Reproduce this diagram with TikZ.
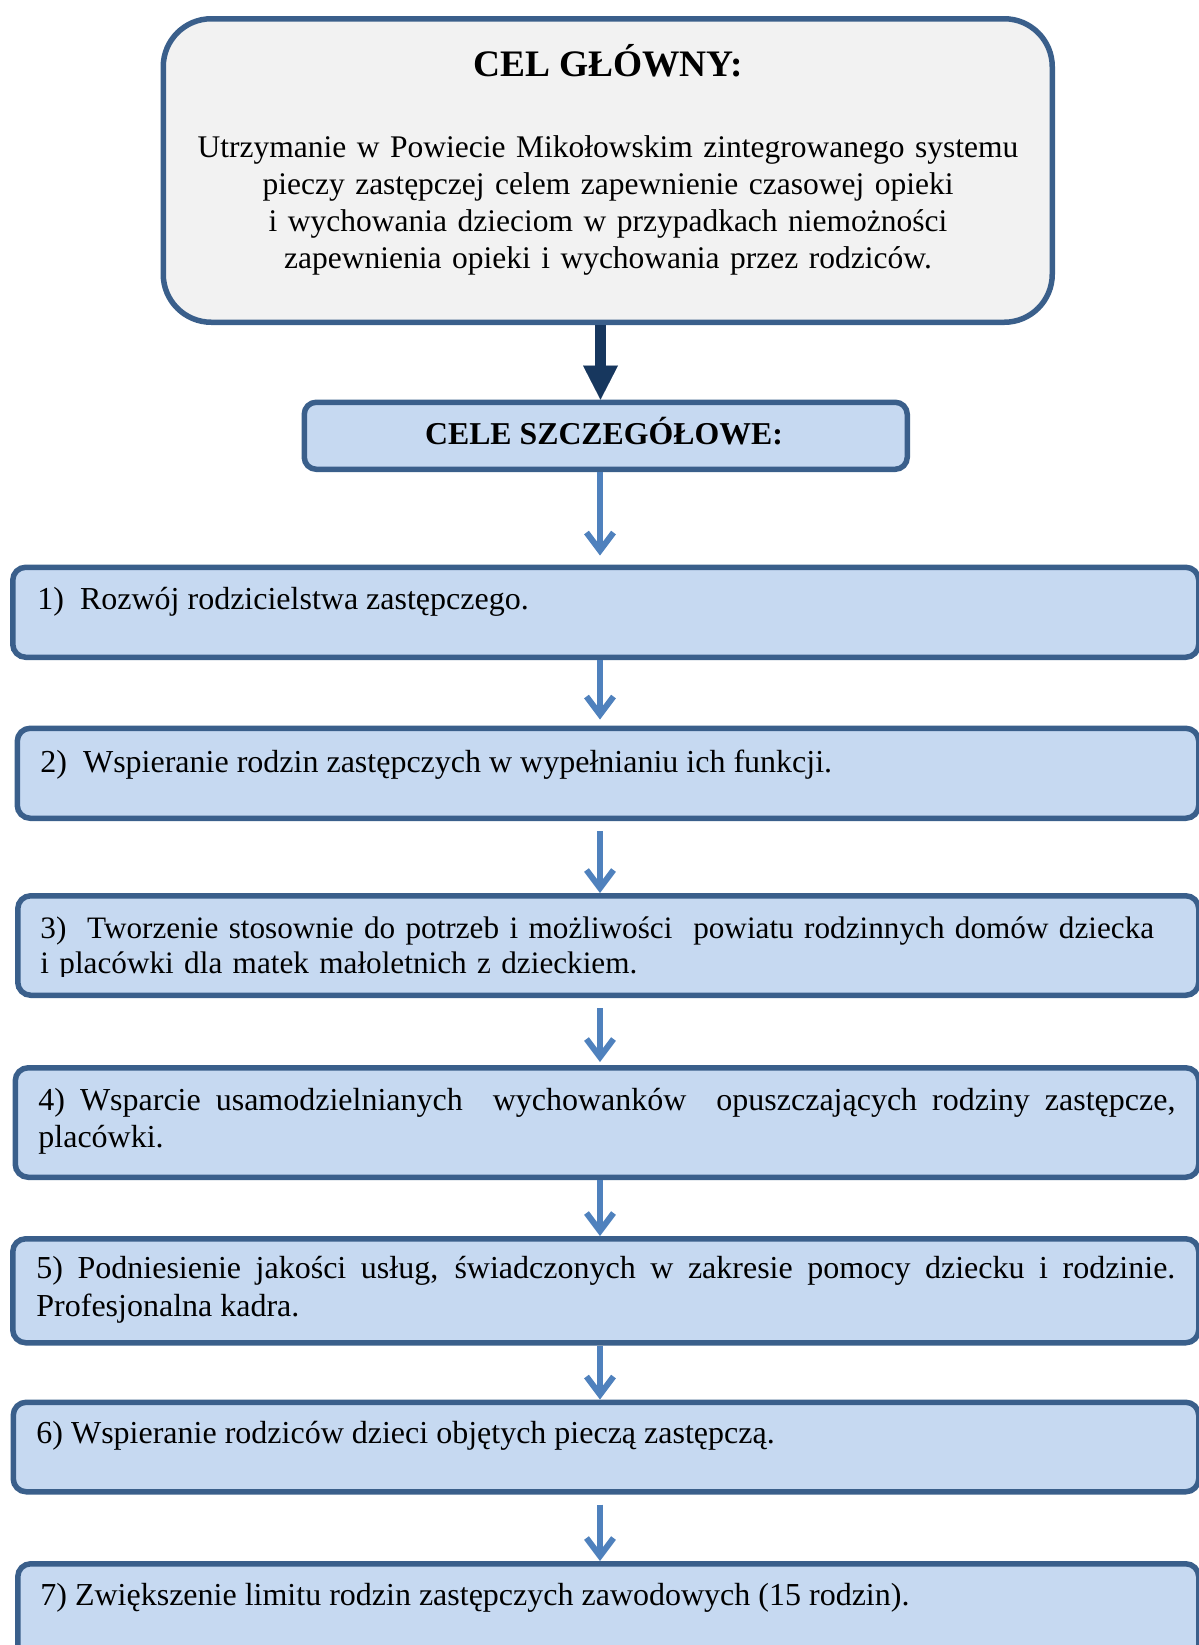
\documentclass[tikz,border=0pt]{standalone}
\usepackage{fontspec}
\setmainfont{Liberation Serif}
\usetikzlibrary{arrows.meta}
\definecolor{bordc}{HTML}{3A5F8B}
\definecolor{boxfill}{HTML}{C6D9F1}
\definecolor{topfill}{HTML}{F2F2F2}
\definecolor{darkarrc}{HTML}{17375E}
\definecolor{arrc}{HTML}{4F81BD}
\begin{document}
\begin{tikzpicture}[x=0.5pt,y=-0.5pt,
  bx/.style={rectangle, draw=bordc, line width=2.75pt, fill=boxfill, rounded corners=6.5pt, inner sep=0pt, anchor=north west},
  txt/.style={inner sep=0pt, anchor=base west, font=\fontsize{16pt}{18pt}\selectfont},
  darkarr/.style={draw=darkarrc, line width=5.5pt, -{Triangle[length=17pt,width=17.5pt,line width=0.01pt]}},
  ltarr/.style={draw=arrc, line width=3pt, -{Straight Barb[length=9pt,width=13.5pt]},
    preaction={draw=black!30, -{Straight Barb[length=9pt,width=13.5pt]}, transform canvas={shift={(0.4pt,-1pt)}}}},
]
\useasboundingbox (0,0) rectangle (1199,1645);

% main goal box
\node[bx, fill=topfill, rounded corners=24pt, minimum width=444.5pt, minimum height=151.75pt] (top) at (160.5,16) {};
\node[anchor=base, inner sep=0pt, font=\bfseries\fontsize{18.7pt}{22pt}\selectfont] (h0) at (608,76) {CEL GŁÓWNY:};
\node[anchor=base, inner sep=0pt, text width=440pt, align=center, font=\fontsize{15.75pt}{18.5pt}\selectfont] (b0) at (608,157)
  {Utrzymanie w Powiecie Mikołowskim zintegrowanego systemu\\
   pieczy zastępczej celem zapewnienie czasowej opieki\\
   i wychowania dzieciom w przypadkach niemożności\\
   zapewnienia opieki i wychowania przez rodziców.};

% specific goals header
\node[bx, rounded corners=6pt, minimum width=301.5pt, minimum height=33.5pt] (cele) at (301.5,399.5) {};
\node[anchor=base, inner sep=0pt, font=\bfseries\fontsize{15.9pt}{19pt}\selectfont] (h1) at (604,444) {CELE SZCZEGÓŁOWE:};

% goal boxes
\node[bx, minimum width=593pt,    minimum height=45pt]    (b1) at (10,564.5) {};
\node[bx, minimum width=590.75pt, minimum height=45pt]    (b2) at (14.5,725.5) {};
\node[bx, minimum width=590.5pt,  minimum height=49.75pt] (b3) at (15,893) {};
\node[bx, minimum width=591.75pt, minimum height=54.75pt] (b4) at (12.5,1065) {};
\node[bx, minimum width=593pt,    minimum height=52pt]    (b5) at (10,1236) {};
\node[bx, minimum width=592.75pt, minimum height=44.75pt] (b6) at (10.5,1399.5) {};
\node[bx, minimum width=590.5pt,  minimum height=59.5pt]  (b7) at (15,1561) {};

% connectors
\draw[darkarr] (top.south -| 600.5,0) -- (cele.north -| 600.5,0);
\draw[ltarr, shorten >=4.5pt] (cele.south -| 600,0) -- (b1.north -| 600,0);
\draw[ltarr, shorten >=3pt] (b1.south -| 600,0) -- (b2.north -| 600,0);
\draw[ltarr, shorten <=5pt] (b2.south -| 600,0) -- (b3.north -| 600,0);
\draw[ltarr, shorten <=5pt, shorten >=1.5pt] (b3.south -| 600,0) -- (b4.north -| 600,0);
\draw[ltarr] (b4.south -| 600,0) -- (b5.north -| 600,0);
\draw[ltarr] (b5.south -| 600,0) -- (b6.north -| 600,0);
\draw[ltarr, shorten <=5pt] (b6.south -| 600,0) -- (b7.north -| 600,0);

% texts
\node[txt] (t1) at (37,609) {1)~~Rozwój rodzicielstwa zastępczego.};
\node[txt] (t2) at (40,772) {2)~~Wspieranie rodzin zastępczych w wypełnianiu ich funkcji.};
\begin{scope}
\clip (17,896) rectangle (1194,976);
\node[txt, text width=575pt, align=left, font=\fontsize{15.6pt}{17.5pt}\selectfont] (t3) at (40,938)
  {3)~~Tworzenie stosownie do potrzeb i możliwości~~powiatu rodzinnych domów dziecka\\
   i placówki dla matek małoletnich z dzieckiem.};
\end{scope}
\node[txt, text width=568.5pt, align=justify, font=\fontsize{16pt}{18.5pt}\selectfont] (t4) at (38,1110)
  {4) Wsparcie usamodzielnianych~~wychowanków~~opuszczających rodziny zastępcze,\linebreak placówki.};
\node[txt, text width=569.5pt, align=justify, font=\fontsize{16pt}{19pt}\selectfont] (t5) at (36,1278)
  {5) Podniesienie jakości usług, świadczonych w zakresie pomocy dziecku i rodzinie.\linebreak Profesjonalna kadra.};
\node[txt] (t6) at (36,1443) {6) Wspieranie rodziców dzieci objętych pieczą zastępczą.};
\node[txt] (t7) at (40,1605) {7) Zwiększenie limitu rodzin zastępczych zawodowych (15 rodzin).};
\end{tikzpicture}
\end{document}
